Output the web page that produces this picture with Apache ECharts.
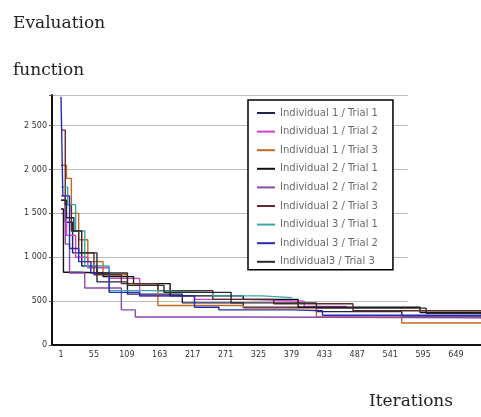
<!DOCTYPE html>
<html>
<head>
<meta charset="utf-8">
<script src="https://cdn.jsdelivr.net/npm/echarts@6/dist/echarts.min.js"></script>
<style>
  html, body { margin: 0; padding: 0; background: #fff; }
  #chart { width: 481px; height: 417px; }
</style>
</head>
<body>
<div id="chart"></div>
<script>
// step curves: [iteration, evaluation] at each improvement
const names = [
  "Individual 1 / Trial 1", "Individual 1 / Trial 2", "Individual 1 / Trial 3",
  "Individual 2 / Trial 1", "Individual 2 / Trial 2", "Individual 2 / Trial 3",
  "Individual 3 / Trial 1", "Individual 3 / Trial 2", "Individual3 / Trial 3",
];
const colors = [
  "#22224e", "#d040d0", "#c06a20",
  "#111111", "#8a48b0", "#5e2a2a",
  "#3aa6a6", "#2a2ab4", "#2a2a2a",
];
const i1t1 = [[1,1650],[8,1400],[20,1050],[35,900],[60,720],[110,580],[200,480],[300,430],[420,380],[560,330],[690,330]];
const i1t2 = [[1,1500],[10,1250],[25,1000],[45,880],[80,760],[130,560],[220,520],[300,500],[400,440],[470,440]];
const i1t3 = [[1,2050],[10,1900],[18,1500],[30,1200],[45,950],[70,800],[110,700],[160,450],[300,420],[420,320],[560,250],[690,250]];
const i2t1 = [[1,1550],[5,830],[30,820],[70,780],[120,700],[180,560],[300,520],[390,430],[590,370],[690,370]];
const i2t2 = [[1,1700],[8,1150],[15,820],[40,650],[100,400],[123,320],[300,310],[690,300]];
const i2t3 = [[1,2450],[8,1600],[18,1300],[30,1050],[55,800],[100,700],[160,620],[250,520],[350,470],[480,390],[690,390]];
const i3t1 = [[1,1800],[12,1600],[25,1300],[40,900],[80,620],[150,600],[250,560],[330,540],[380,540]];
const i3t2 = [[1,2830],[4,1700],[15,1100],[30,950],[50,820],[80,600],[130,560],[220,430],[260,400],[380,390],[430,340],[690,340]];
const i3t3 = [[1,1650],[10,1450],[22,1300],[35,1050],[60,820],[110,680],[170,600],[280,480],[420,420],[600,360],[690,350]];
const curves = [i1t1, i1t2, i1t3, i2t1, i2t2, i2t3, i3t1, i3t2, i3t3];

const yTicks = [0, 500, 1000, 1500, 2000, 2500];
const xStep = 54;

const chart = echarts.init(document.getElementById("chart"));

const serif = { fontFamily: "DejaVu Serif", fontSize: 17, fontWeight: "normal", color: "#222" };

chart.setOption({
  animation: false,
  title: [
    { text: "Evaluation", left: 8, top: 10, textStyle: serif },
    { text: "function", left: 8, top: 57, textStyle: serif },
    { text: "Iterations", left: 364, top: 388, textStyle: serif },
  ],
  grid: [
    // y axis + gridlines
    { left: 52, right: 73, top: 95, bottom: 72 },
    // curves
    { left: 61, right: 0, top: 95, bottom: 72 },
  ],
  legend: {
    data: names,
    orient: "vertical",
    left: 248,
    top: 100,
    itemGap: 8.6,
    itemWidth: 18,
    itemHeight: 2,
    icon: "rect",
    padding: [8, 15, 3, 9],
    borderColor: "#000",
    borderWidth: 1.5,
    backgroundColor: "#fff",
    textStyle: { fontFamily: "DejaVu Sans", fontSize: 10, color: "#6a6a6a" },
  },
  xAxis: [
    {
      gridIndex: 0, type: "value", min: 0, max: 1,
      axisLine: { show: true, lineStyle: { color: "#111", width: 2 } },
      axisTick: { show: false }, axisLabel: { show: false }, splitLine: { show: false },
    },
    {
      gridIndex: 1, type: "value", min: 0, max: 689, interval: xStep,
      axisLine: { show: true, lineStyle: { color: "#111", width: 2 } },
      axisTick: { show: false },
      splitLine: { show: false },
      axisLabel: {
        color: "#333", fontSize: 8, fontFamily: "DejaVu Sans", margin: 6,
        showMaxLabel: false,
        formatter: (v) => String(v + 1),
      },
    },
  ],
  yAxis: [
    {
      gridIndex: 0, type: "value", min: 0, max: 2850, interval: 500,
      axisLine: { show: true, lineStyle: { color: "#111", width: 2 } },
      axisTick: { show: true, length: 3, lineStyle: { color: "#555" } },
      axisLabel: {
        color: "#333", fontSize: 8, fontFamily: "DejaVu Sans", margin: 5,
        formatter: (v) => yTicks.includes(v) ? String(v).replace(/(\d)(\d{3})$/, "$1 $2") : "",
      },
      splitLine: { show: true, lineStyle: { color: "#bdbdbd", width: 1.2 } },
    },
    {
      gridIndex: 1, type: "value", min: 0, max: 2850, interval: 500,
      axisLine: { show: false }, axisTick: { show: false },
      axisLabel: { show: false }, splitLine: { show: false },
    },
  ],
  series: curves.map((pts, i) => ({
    name: names[i],
    type: "line",
    xAxisIndex: 1,
    yAxisIndex: 1,
    step: "end",
    showSymbol: false,
    color: colors[i],
    lineStyle: { width: 1.4, color: colors[i] },
    data: pts.map(([it, v]) => [it - 1, v]),
  })),
});
</script>
</body>
</html>
